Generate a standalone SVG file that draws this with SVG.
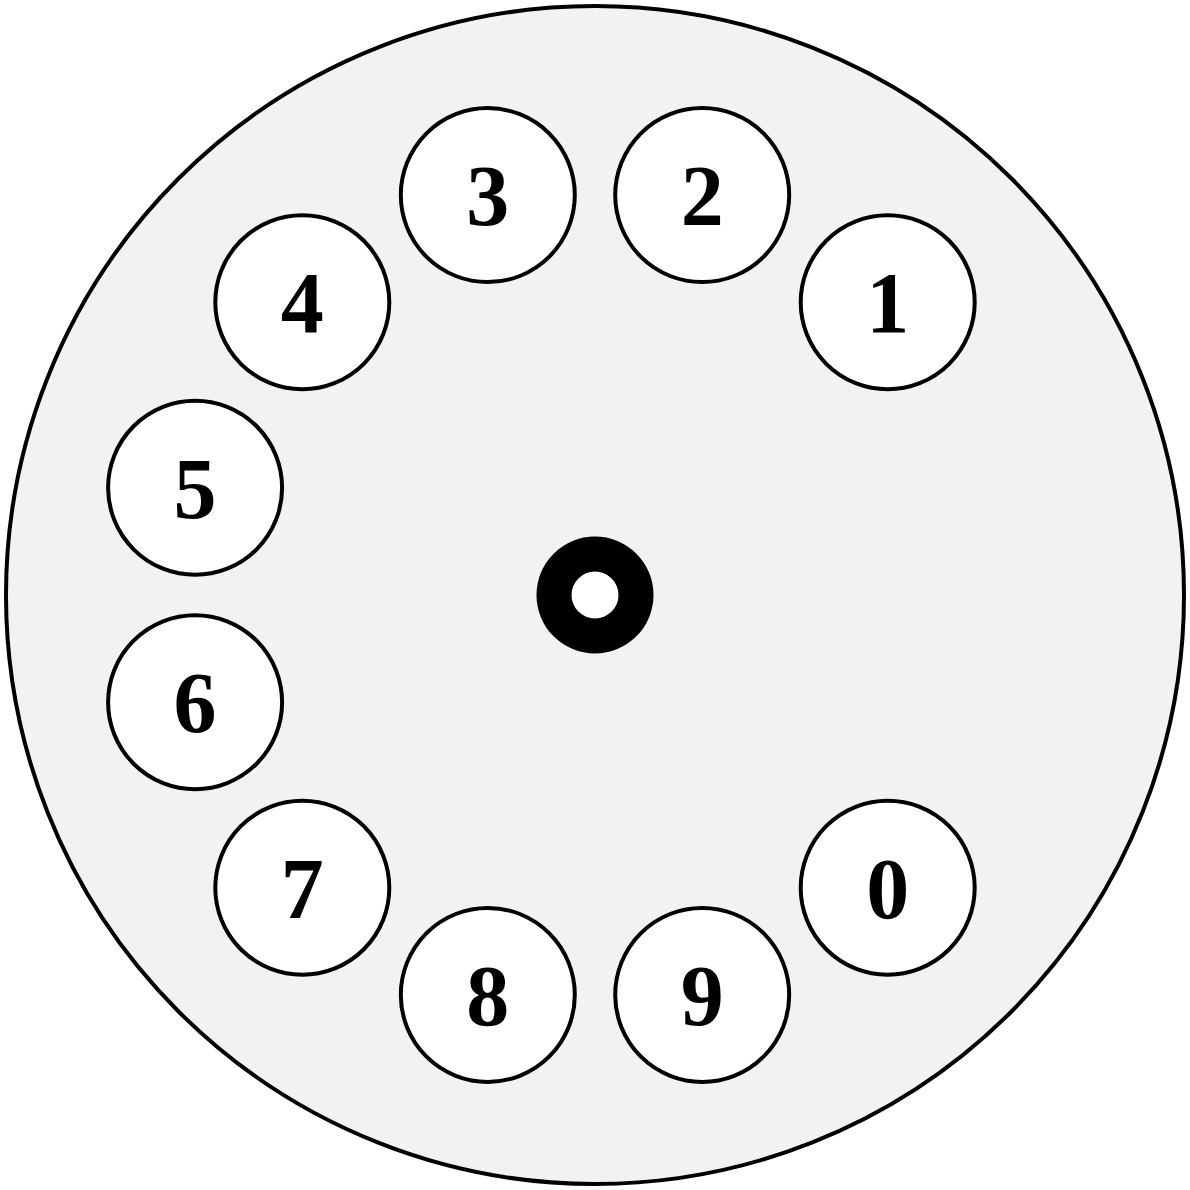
<svg xmlns="http://www.w3.org/2000/svg" width="1190" height="1190" viewBox="0 0 1190 1190">
<style>
.hole{fill:#fff;stroke:#000;stroke-width:4}
.lbl{font-family:"Liberation Serif","DejaVu Serif",serif;font-weight:bold;font-size:86px;text-anchor:middle;fill:#000}
</style>
<rect width="1190" height="1190" fill="#fff"/>
<g id="dial">
<circle cx="595" cy="595" r="589" fill="#f2f2f2" stroke="#000" stroke-width="4"/>
</g>
<g id="hub">
<circle cx="595" cy="595" r="58.5" fill="#000"/>
<circle cx="595" cy="595" r="23.5" fill="#fff"/>
</g>
<g id="hole-1"><circle class="hole" cx="887.7" cy="302.3" r="87"/><text class="lbl" x="887.7" y="332.3">1</text></g>
<g id="hole-2"><circle class="hole" cx="702.2" cy="195.1" r="87"/><text class="lbl" x="702.2" y="225.1">2</text></g>
<g id="hole-3"><circle class="hole" cx="487.8" cy="195.1" r="87"/><text class="lbl" x="487.8" y="225.1">3</text></g>
<g id="hole-4"><circle class="hole" cx="302.3" cy="302.3" r="87"/><text class="lbl" x="302.3" y="332.3">4</text></g>
<g id="hole-5"><circle class="hole" cx="195.1" cy="487.8" r="87"/><text class="lbl" x="195.1" y="517.8">5</text></g>
<g id="hole-6"><circle class="hole" cx="195.1" cy="702.2" r="87"/><text class="lbl" x="195.1" y="732.2">6</text></g>
<g id="hole-7"><circle class="hole" cx="302.3" cy="887.7" r="87"/><text class="lbl" x="302.3" y="917.7">7</text></g>
<g id="hole-8"><circle class="hole" cx="487.8" cy="994.9" r="87"/><text class="lbl" x="487.8" y="1024.9">8</text></g>
<g id="hole-9"><circle class="hole" cx="702.2" cy="994.9" r="87"/><text class="lbl" x="702.2" y="1024.9">9</text></g>
<g id="hole-0"><circle class="hole" cx="887.7" cy="887.7" r="87"/><text class="lbl" x="887.7" y="917.7">0</text></g>
<g id="connectors"/>
</svg>
